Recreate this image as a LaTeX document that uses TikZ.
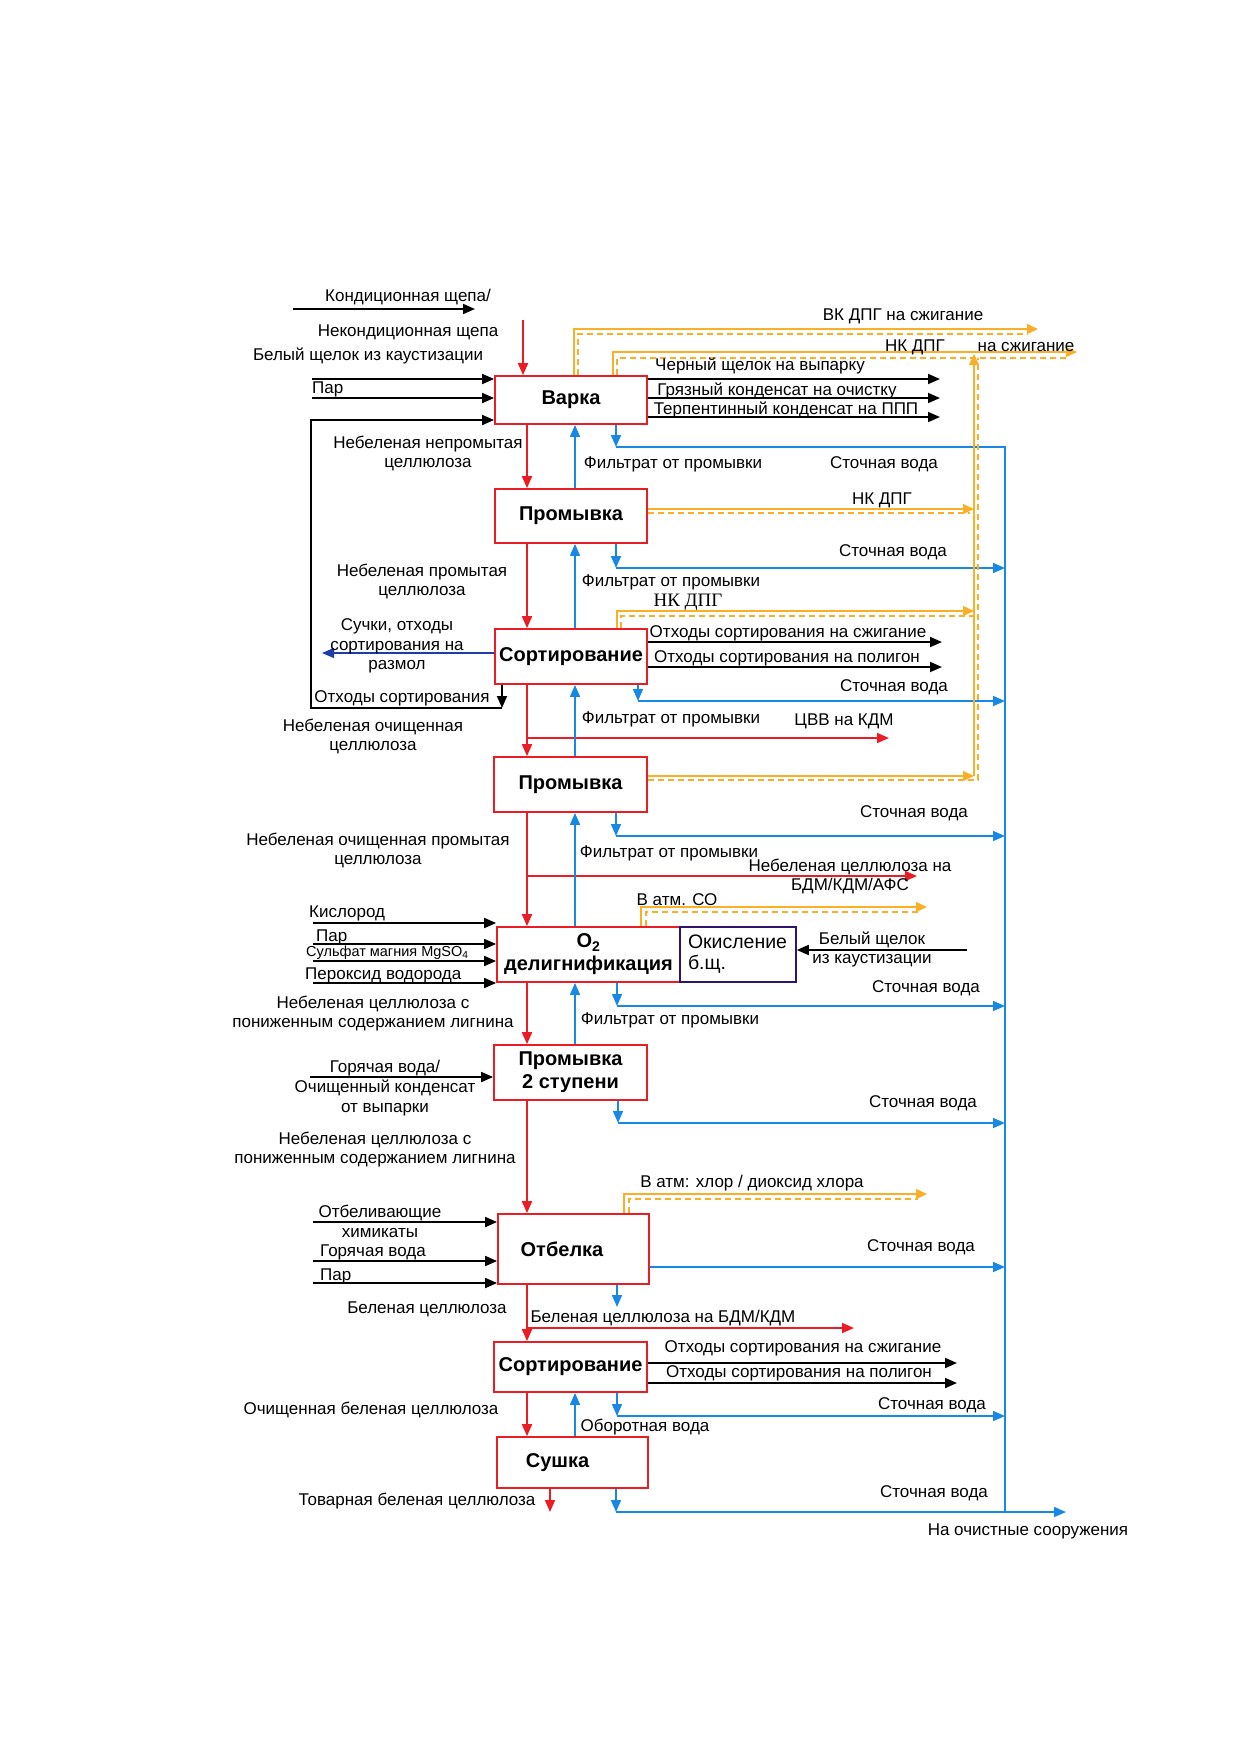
\documentclass[tikz,border=0pt]{standalone}
\usepackage{fontspec}
\setmainfont{Liberation Sans}
\newfontfamily\nkserif{Liberation Serif}
\usetikzlibrary{arrows.meta}

\definecolor{pulpred}{RGB}{235,28,36}
\definecolor{waterblue}{RGB}{24,136,229}
\definecolor{gasorange}{RGB}{250,175,40}
\definecolor{oxnavy}{RGB}{45,20,110}
\definecolor{knotblue}{RGB}{30,60,170}

\tikzset{
  box/.style={draw=pulpred, line width=1.8pt, fill=white, align=center, inner sep=0pt,
    font=\bfseries\fontsize{20}{23}\selectfont},
  lbl/.style={inner sep=0pt, align=center, font=\fontsize{17}{19}\selectfont},
  flow/.style={line width=1.8pt, -{Triangle[length=12pt,width=10pt]}},
  feed/.style={flow, color=black},
  pulp/.style={flow, color=pulpred},
  water/.style={flow, line width=1.6pt, color=waterblue},
  wline/.style={line width=1.6pt, draw=waterblue},
  gas/.style={line width=1.4pt, color=gasorange, -{Triangle[length=11pt,width=10pt]}},
  gasdash/.style={line width=1.3pt, draw=gasorange, dash pattern=on 6pt off 4pt},
}

\begin{document}
\begin{tikzpicture}[x=1pt,y=1pt,yscale=-1,xscale=1]
\useasboundingbox (0,0) rectangle (1240,1754);

% Process boxes
\node[box, minimum width=152pt, minimum height=48pt] (varka) at (571,400) {Варка};
\node[box, minimum width=152pt, minimum height=54pt] (prom1) at (571,516) {Промывка};
\node[box, minimum width=152pt, minimum height=55pt] (sort1) at (571,656.5) {Сортирование};
\node[box, minimum width=153pt, minimum height=55pt] (prom2) at (570.5,784.5) {Промывка};
\node[box, minimum width=183pt, minimum height=55pt] (deox) at (588.5,954.5) {O\textsubscript{2}\\делигнификация};
\node[draw=oxnavy, line width=1.6pt, fill=white, minimum height=55pt, text width=100pt, inner xsep=8pt,
  align=left, font=\fontsize{19.5}{21}\selectfont] (oxid) at (738,954.5) {Окисление\\б.щ.};
\node[box, minimum width=153pt, minimum height=55pt] (prom3) at (570.5,1072.5) {Промывка\\2 ступени};
\node[box, minimum width=151pt, minimum height=70pt] (bleach) at (573.5,1249) {\hspace*{-23pt}Отбелка};
\node[box, minimum width=153pt, minimum height=50pt] (sort2) at (570.5,1367) {Сортирование};
\node[box, minimum width=151pt, minimum height=51pt] (dry) at (572.5,1462.5) {\hspace*{-30pt}Сушка};

%Free ends
\coordinate (chipA) at (293,309);
\coordinate (chipB) at (475,309);
\coordinate (chipC) at (523,320);
\coordinate (liq) at (312,379);
\coordinate (steam1) at (312,398);
\coordinate (loopT) at (311,420);
\coordinate (loopB) at (311,708);
\coordinate (rej) at (502,708);
\coordinate (blk1) at (940,379);
\coordinate (blk2) at (940,398);
\coordinate (blk3) at (940,417);
\coordinate (pulpx) at (527,0);
\coordinate (filx) at (575,0);

%Straight Lines: pulp
\draw[feed] (chipA) -- (chipB);
\draw[pulp] (chipC) -- (chipC |- varka.north);
\draw[pulp] (varka.south -| pulpx) -- (prom1.north -| pulpx);
\draw[pulp] (prom1.south -| pulpx) -- (sort1.north -| pulpx);
\draw[pulp] (sort1.south -| pulpx) -- (prom2.north -| pulpx);
\draw[pulp] (prom2.south -| pulpx) -- (deox.north -| pulpx);
\draw[pulp] (deox.south -| pulpx) -- (prom3.north -| pulpx);
\draw[pulp] (prom3.south -| pulpx) -- (bleach.north -| pulpx);
\draw[pulp] (bleach.south -| pulpx) -- (sort2.north -| pulpx);
\draw[pulp] (sort2.south -| pulpx) -- (dry.north -| pulpx);
\coordinate (prod) at (550,1512);
\draw[pulp] (dry.south -| prod) -- (prod);
\coordinate (cvvA) at (527,738);
\coordinate (cvvB) at (889,738);
\draw[pulp] (cvvA) -- (cvvB);
\coordinate (unbA) at (527,876);
\coordinate (unbB) at (917,876);
\draw[pulp] (unbA) -- (unbB);
\coordinate (blA) at (527,1328);
\coordinate (blB) at (854,1328);
\draw[pulp] (blA) -- (blB);

%Straight Lines: cooking inputs and outputs
\draw[feed] (liq) -- (liq -| varka.west);
\draw[feed] (steam1) -- (steam1 -| varka.west);
\draw[feed] (sort1.south -| rej) -- (rej);
\draw[feed] (rej) -- (loopB) -- (loopT) -- (loopT -| varka.west);
\draw[feed] (varka.east |- blk1) -- (blk1);
\draw[feed] (varka.east |- blk2) -- (blk2);
\draw[feed] (varka.east |- blk3) -- (blk3);

%Straight Lines: screening rejects
\coordinate (rej1) at (942,642);
\coordinate (rej2) at (942,667);
\draw[feed] (sort1.east |- rej1) -- (rej1);
\draw[feed] (sort1.east |- rej2) -- (rej2);
\coordinate (knots) at (322,653);
\draw[flow, color=knotblue, line width=1.4pt] (sort1.west |- knots) -- (knots);
\coordinate (rej3) at (957,1363);
\coordinate (rej4) at (957,1383);
\draw[feed] (sort2.east |- rej3) -- (rej3);
\draw[feed] (sort2.east |- rej4) -- (rej4);

%Straight Lines: oxygen stage
\coordinate (oxy) at (313,923);
\coordinate (steam2) at (313,944);
\coordinate (mgso) at (313,961);
\coordinate (perox) at (313,983);
\draw[feed] (oxy) -- (oxy -| deox.west);
\draw[feed] (steam2) -- (steam2 -| deox.west);
\draw[feed] (mgso) -- (mgso -| deox.west);
\draw[feed] (perox) -- (perox -| deox.west);
\coordinate (wliq) at (967,950);
\draw[feed] (wliq) -- (wliq -| oxid.east);
\coordinate (hotw) at (310,1077);
\draw[feed] (hotw) -- (hotw -| prom3.west);
\coordinate (chem) at (313,1222);
\coordinate (hotw2) at (313,1261);
\coordinate (steam3) at (313,1283);
\draw[feed] (chem) -- (chem -| bleach.west);
\draw[feed] (hotw2) -- (hotw2 -| bleach.west);
\draw[feed] (steam3) -- (steam3 -| bleach.west);

%Straight Lines: filtrate (up)
\draw[water] (prom1.north -| filx) -- (varka.south -| filx);
\draw[water] (sort1.north -| filx) -- (prom1.south -| filx);
\draw[water] (prom2.north -| filx) -- (sort1.south -| filx);
\draw[water] (deox.north -| filx) -- (prom2.south -| filx);
\draw[water] (prom3.north -| filx) -- (deox.south -| filx);
\draw[water] (dry.north -| filx) -- (sort2.south -| filx);

%Straight Lines: waste water
\coordinate (w0) at (616,447);
\coordinate (w0E) at (1005,447);
\coordinate (wEnd) at (1005,1512);
\draw[water] (varka.south -| w0) -- (w0);
\draw[wline] (w0) -- (w0E) -- (wEnd);
\coordinate (w1) at (616,568);
\draw[water] (prom1.south -| w1) -- (w1);
\draw[water] (w1) -- (w1 -| wEnd);
\coordinate (w2) at (638,701);
\draw[water] (sort1.south -| w2) -- (w2);
\draw[water] (w2) -- (w2 -| wEnd);
\coordinate (w3) at (616,836);
\draw[water] (prom2.south -| w3) -- (w3);
\draw[water] (w3) -- (w3 -| wEnd);
\coordinate (w4) at (617,1006);
\draw[water] (deox.south -| w4) -- (w4);
\draw[water] (w4) -- (w4 -| wEnd);
\coordinate (w5) at (618,1123);
\draw[water] (prom3.south -| w5) -- (w5);
\draw[water] (w5) -- (w5 -| wEnd);
\coordinate (w6) at (1005,1267);
\draw[water] (bleach.east |- w6) -- (w6);
\coordinate (w7) at (617,1307);
\draw[water] (bleach.south -| w7) -- (w7);
\coordinate (w8) at (617,1416);
\draw[water] (sort2.south -| w8) -- (w8);
\draw[water] (w8) -- (w8 -| wEnd);
\coordinate (w9) at (616,1512);
\coordinate (w9E) at (1066,1512);
\draw[water] (dry.south -| w9) -- (w9);
\draw[water] (w9) -- (w9E);

%Straight Lines: gases
\coordinate (vk1) at (574,329);
\coordinate (vk2) at (1038,329);
\coordinate (vk3) at (578,334);
\coordinate (vk4) at (1028,334);
\draw[gas] (varka.north -| vk1) -- (vk1) -- (vk2);
\draw[gasdash] (varka.north -| vk3) -- (vk3) -- (vk4);
\coordinate (nk1) at (613,352);
\coordinate (nk2) at (1077,352);
\coordinate (nk3) at (617,358);
\coordinate (nk4) at (1068,358);
\draw[gas] (varka.north -| nk1) -- (nk1) -- (nk2);
\draw[gasdash] (varka.north -| nk3) -- (nk3) -- (nk4);
\coordinate (p1g) at (974,509);
\coordinate (p1gd) at (970,513);
\draw[gas] (prom1.east |- p1g) -- (p1g);
\draw[gasdash] (prom1.east |- p1gd) -- (p1gd);
\coordinate (s1g) at (617,611);
\coordinate (s1gE) at (974,611);
\coordinate (s1gd) at (621,616);
\coordinate (s1gdE) at (978,616);
\draw[gas] (sort1.north -| s1g) -- (s1g) -- (s1gE);
\draw[gasdash] (sort1.north -| s1gd) -- (s1gd) -- (s1gdE);
\coordinate (p2g) at (974,776);
\coordinate (nkup) at (974,354);
\coordinate (p2gd) at (978,780);
\draw[gas] (prom2.east |- p2g) -- (p2g);
\draw[gas] (p2g) -- (nkup);
\draw[gasdash] (prom2.east |- p2gd) -- (p2gd) -- (nk3 -| p2gd);
\coordinate (co1) at (641,907);
\coordinate (co2) at (927,907);
\coordinate (co3) at (646,912);
\coordinate (co4) at (918,912);
\draw[gas] (deox.north -| co1) -- (co1) -- (co2);
\draw[gasdash] (deox.north -| co3) -- (co3) -- (co4);
\coordinate (cl1) at (624,1194);
\coordinate (cl2) at (927,1194);
\coordinate (cl3) at (629,1199);
\coordinate (cl4) at (918,1199);
\draw[gas] (bleach.north -| cl1) -- (cl1) -- (cl2);
\draw[gasdash] (bleach.north -| cl3) -- (cl3) -- (cl4);

% Text Node
\node[lbl] (tChipA) at (408,297) {Кондиционная щепа/};
\node[lbl] (tChipB) at (408,332) {Некондиционная щепа};
\node[lbl] (tLiq) at (368,356) {Белый щелок из каустизации};
\node[lbl, anchor=west] (tSteam1) at (312,389) {Пар};
\node[lbl] (tUnw) at (428,453) {Небеленая непромытая\\целлюлоза};
\node[lbl] (tBlk1) at (760,366) {Черный щелок на выпарку};
\node[lbl] (tBlk2) at (777,391) {Грязный конденсат на очистку};
\node[lbl] (tBlk3) at (786,410) {Терпентинный конденсат на ППП};
\node[lbl] (tVK) at (903,316) {ВК ДПГ на сжигание};
\node[lbl] (tNK) at (915,347) {НК ДПГ};
\node[lbl] (tNKb) at (1026,347) {на сжигание};
\node[lbl] (tFil1) at (673,464) {Фильтрат от промывки};
\node[lbl] (tWw1) at (884,464) {Сточная вода};
\node[lbl] (tNK2) at (882,500) {НК ДПГ};
\node[lbl] (tWw2) at (893,552) {Сточная вода};
\node[lbl] (tFil2) at (671,582) {Фильтрат от промывки};
\node[lbl] (tWashed) at (422,581) {Небеленая промытая\\целлюлоза};
\node[lbl, font=\nkserif\fontsize{19}{21}\selectfont] (tNK3) at (688,602) {НК ДПГ};
\node[lbl] (tRej1) at (788,633) {Отходы сортирования на сжигание};
\node[lbl] (tRej2) at (787,658) {Отходы сортирования на полигон};
\node[lbl, font=\fontsize{17}{19.5}\selectfont] (tKnots) at (397,646) {Сучки, отходы\\сортирования на\\размол};
\node[lbl] (tWw3) at (894,687) {Сточная вода};
\node[lbl] (tRejL) at (402,698) {Отходы сортирования};
\node[lbl] (tFil3) at (671,719) {Фильтрат от промывки};
\node[lbl] (tCvv) at (844,721) {ЦВВ на КДМ};
\node[lbl] (tClean) at (373,736) {Небеленая очищенная\\целлюлоза};
\node[lbl] (tWw4) at (914,813) {Сточная вода};
\node[lbl] (tCleanW) at (378,850) {Небеленая очищенная промытая\\целлюлоза};
\node[lbl] (tFil4) at (669,853) {Фильтрат от промывки};
\node[lbl] (tUnbl) at (850,876) {Небеленая целлюлоза на\\БДМ/КДМ/АФС};
\node[lbl] (tCO) at (677,900) {В атм. СО};
\node[lbl, anchor=west] (tOxy) at (309,913) {Кислород};
\node[lbl, anchor=west] (tSteam2) at (316,937) {Пар};
\node[lbl, anchor=west, font=\fontsize{14.5}{16}\selectfont] (tMg) at (306,953) {Сульфат магния MgSO\textsubscript{4}};
\node[lbl, anchor=west] (tPer) at (305,975) {Пероксид водорода};
\node[lbl] (tWl) at (872,949) {Белый щелок\\из каустизации};
\node[lbl] (tWw5) at (926,988) {Сточная вода};
\node[lbl] (tLow1) at (373,1014) {Небеленая целлюлоза с\\пониженным содержанием лигнина};
\node[lbl] (tFil5) at (670,1020) {Фильтрат от промывки};
\node[lbl, font=\fontsize{17}{20}\selectfont] (tHot) at (385,1088) {Горячая вода/\\Очищенный конденсат\\от выпарки};
\node[lbl] (tWw6) at (923,1103) {Сточная вода};
\node[lbl] (tLow2) at (375,1150) {Небеленая целлюлоза с\\пониженным содержанием лигнина};
\node[lbl] (tCl) at (752,1183) {В атм: хлор / диоксид хлора};
\node[lbl, font=\fontsize{17}{20}\selectfont] (tBlch) at (380,1221) {Отбеливающие\\химикаты};
\node[lbl, anchor=west] (tHot2) at (320,1252) {Горячая вода};
\node[lbl] (tWw7) at (921,1247) {Сточная вода};
\node[lbl, anchor=west] (tSteam3) at (320,1276) {Пар};
\node[lbl] (tBl) at (427,1309) {Беленая целлюлоза};
\node[lbl] (tBlOut) at (663,1318) {Беленая целлюлоза на БДМ/КДМ};
\node[lbl] (tRej3) at (803,1348) {Отходы сортирования на сжигание};
\node[lbl] (tRej4) at (799,1373) {Отходы сортирования на полигон};
\node[lbl] (tWw8) at (932,1405) {Сточная вода};
\node[lbl] (tBlClean) at (371,1410) {Очищенная беленая целлюлоза};
\node[lbl] (tCirc) at (645,1427) {Оборотная вода};
\node[lbl] (tWw9) at (934,1493) {Сточная вода};
\node[lbl] (tProd) at (417,1501) {Товарная беленая целлюлоза};
\node[lbl] (tTreat) at (1028,1531) {На очистные сооружения};

\end{tikzpicture}
\end{document}
